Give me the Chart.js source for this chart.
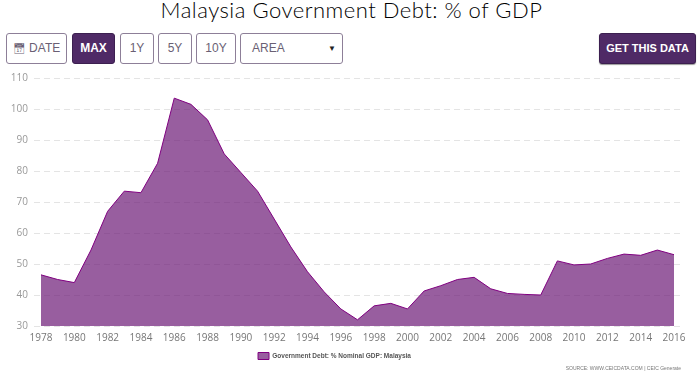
<!DOCTYPE html>
<html>
<head>
  <title>Malaysia Government Debt: % of GDP</title>
  <script src="https://cdn.jsdelivr.net/npm/chart.js"></script>
  <style>
    html, body { margin: 0; padding: 0; background: #fff; overflow: hidden; }
    body { width: 700px; height: 385px; position: relative; font-family: "Liberation Sans", sans-serif; }
    h1 { position: absolute; left: 0; top: 0; width: 703px; margin: 0; text-align: center; font: 300 22px/20px Lato, sans-serif; letter-spacing: 0.5px; color: #000; }
    .btn { position: absolute; top: 33px; height: 29px; line-height: 29px; box-sizing: content-box; border: 1px solid #8d7f98; border-radius: 3px; text-align: center; font-size: 12px; color: #6a5f74; background: #fff; }
    .on { background: #4f2a66; border-color: #3c1f50; color: #fff; font-weight: 700; }
    #chartWrap { position: absolute; left: 0; top: 70px; width: 700px; height: 315px; }
    #source { position: absolute; right: 19px; top: 364px; font: 5px/8px "Liberation Sans", sans-serif; color: #777; }
  </style>
</head>
<body>
  <h1>Malaysia Government Debt: % of GDP</h1>
  <div class="btn" style="left:6px;width:59px"><span style="font-size:10px">&#128197;&#xFE0E;</span> DATE</div>
  <div class="btn on" style="left:72px;width:41px">MAX</div>
  <div class="btn" style="left:120px;width:32px">1Y</div>
  <div class="btn" style="left:158px;width:32px">5Y</div>
  <div class="btn" style="left:196px;width:38px">10Y</div>
  <div class="btn" style="left:240px;width:101px;text-align:left;text-indent:11px">AREA<span style="position:absolute;right:6px;top:0;font-size:8px;color:#222;text-indent:0">&#9660;</span></div>
  <div class="btn on" style="left:599px;width:95px;font-size:11px;box-shadow:0 1px 1px #999">GET THIS DATA</div>
  <div id="chartWrap"><canvas id="debtChart"></canvas></div>
  <div id="source">SOURCE: WWW.CEICDATA.COM | CEIC Generate</div>

  <script>
    const years = [1978, 1979, 1980, 1981, 1982, 1983, 1984, 1985, 1986, 1987, 1988, 1989, 1990,
      1991, 1992, 1993, 1994, 1995, 1996, 1997, 1998, 1999, 2000, 2001, 2002, 2003, 2004, 2005,
      2006, 2007, 2008, 2009, 2010, 2011, 2012, 2013, 2014, 2015, 2016];
    const debt = [46.5, 45, 44, 54.5, 67, 73.5, 73, 82.5, 103.5, 101.5, 96.5, 85.5, 79.5,
      73.5, 64.5, 55.5, 47.5, 41, 35.5, 32, 36.5, 37.3, 35.5, 41.3, 43, 45, 45.7, 42,
      40.5, 40.2, 40, 51, 49.7, 50, 51.8, 53.2, 52.8, 54.5, 53];
    const yearTicks = [1978, 1980, 1982, 1984, 1986, 1988, 1990, 1992, 1994, 1996, 1998, 2000,
      2002, 2004, 2006, 2008, 2010, 2012, 2014, 2016];
    const seriesName = "Government Debt: % Nominal GDP: Malaysia";

    // legend sits a little left of the canvas centre in the original
    const legendShift = {
      id: "legendShift",
      afterLayout(chart) {
        chart.legend.left -= 6;
        chart.legend.right -= 6;
      }
    };

    new Chart(document.getElementById("debtChart"), {
      type: "line",
      plugins: [legendShift],
      data: {
        datasets: [{
          label: seriesName,
          data: years.map((y, i) => ({ x: y, y: debt[i] })),
          borderColor: "#800080",
          borderWidth: 1,
          backgroundColor: "rgba(108, 26, 118, 0.7)",
          fill: "start",
          pointRadius: 0,
          tension: 0
        }]
      },
      options: {
        responsive: true,
        maintainAspectRatio: false,
        animation: false,
        layout: { padding: { top: 8, right: 19, bottom: 15.5, left: 0 } },
        plugins: {
          legend: {
            position: "bottom",
            labels: {
              boxWidth: 11,
              boxHeight: 7,
              padding: 10.5,
              color: "#555",
              font: { family: "Liberation Sans", size: 6.5, weight: "bold" }
            }
          },
          tooltip: { enabled: false }
        },
        scales: {
          x: {
            type: "linear",
            min: 1977.58,
            max: 2016.42,
            afterBuildTicks: axis => { axis.ticks = yearTicks.map(v => ({ value: v })); },
            grid: { display: false },
            border: { display: false },
            ticks: {
              autoSkip: false,
              maxRotation: 0,
              padding: -2,
              color: "#777",
              font: { family: "Open Sans", size: 10 },
              callback: v => String(v)
            }
          },
          y: {
            min: 30,
            max: 110,
            afterFit: axis => {
              axis.width = 34;
              axis.paddingTop = 0;
              axis.paddingBottom = 0;
            },
            grid: { color: "#e4e4e4", lineWidth: 1, drawTicks: false },
            border: { display: false, dash: [6, 4] },
            ticks: {
              stepSize: 10,
              padding: 6,
              color: "#999",
              font: { family: "Open Sans", size: 10 }
            }
          }
        }
      }
    });
  </script>
</body>
</html>
